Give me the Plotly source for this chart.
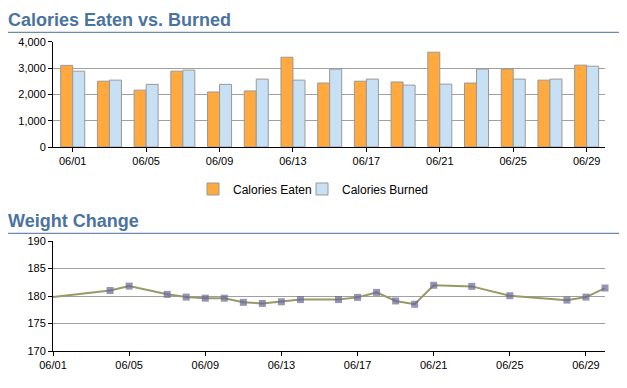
import plotly.graph_objects as go

# ---- data ----
bar_dates = ["06/01", "06/03", "06/05", "06/07", "06/09", "06/11", "06/13", "06/15",
             "06/17", "06/19", "06/21", "06/23", "06/25", "06/27", "06/29"]
calories_eaten = [3100, 2500, 2160, 2880, 2090, 2130, 3410, 2430, 2500, 2470, 3600, 2430, 2960, 2540, 3110]
calories_burned = [2880, 2540, 2380, 2920, 2380, 2580, 2540, 2960, 2580, 2350, 2390, 2960, 2580, 2580, 3070]
bar_tick_labels = ["06/01", "06/05", "06/09", "06/13", "06/17", "06/21", "06/25", "06/29"]

weight_dates = ["2008-06-01", "2008-06-04", "2008-06-05", "2008-06-07", "2008-06-08", "2008-06-09",
                "2008-06-10", "2008-06-11", "2008-06-12", "2008-06-13", "2008-06-14", "2008-06-16",
                "2008-06-17", "2008-06-18", "2008-06-19", "2008-06-20", "2008-06-21", "2008-06-23",
                "2008-06-25", "2008-06-28", "2008-06-29", "2008-06-30"]
weight = [179.8, 181.0, 181.8, 180.3, 179.8, 179.6, 179.6, 178.85, 178.65, 178.95, 179.35, 179.35,
          179.75, 180.65, 179.1, 178.5, 181.95, 181.75, 180.05, 179.25, 179.8, 181.45]

W, H = 627, 388
OFF = 8  # page body margin compensation
title_color = "#4a73a0"
font_family = "Liberation Sans, Arial, sans-serif"

def px_x(p):
    return (p - OFF) / W

def px_y(p):
    return 1 - (p - OFF) / H

fig = go.Figure()

fig.add_trace(go.Bar(x=bar_dates, y=calories_eaten, name="Calories Eaten", legendwidth=64,
                     marker=dict(color="#ffa93f", line=dict(color="#999999", width=1)),
                     xaxis="x", yaxis="y"))
fig.add_trace(go.Bar(x=bar_dates, y=calories_burned, name="Calories Burned", legendwidth=100,
                     marker=dict(color="#c8e0f4", line=dict(color="#999999", width=1)),
                     xaxis="x", yaxis="y"))

msizes = [0] + [7] * (len(weight) - 1)
fig.add_trace(go.Scatter(x=weight_dates, y=weight, mode="lines+markers", showlegend=False,
                         line=dict(color="#999966", width=2),
                         marker=dict(symbol="square", size=msizes, color="#666699",
                                     line=dict(width=0)),
                         cliponaxis=False, xaxis="x2", yaxis="y2"))

axis_common = dict(showline=True, linecolor="black", linewidth=1, ticks="outside",
                   ticklen=4, tickcolor="black", tickfont=dict(size=11, color="black"),
                   automargin=False)

fig.update_layout(
    template="none",
    width=W, height=H,
    margin=dict(l=0, r=0, t=0, b=0, pad=0),
    paper_bgcolor="white", plot_bgcolor="white",
    font=dict(family=font_family, size=11, color="black"),
    barmode="group", bargap=0.346, bargroupgap=0,
    xaxis=dict(domain=[px_x(53), px_x(605)], type="category", range=[-0.537, 14.5],
               tickvals=bar_tick_labels, ticktext=bar_tick_labels, showgrid=False,
               anchor="y", **axis_common),
    yaxis=dict(domain=[px_y(147), px_y(41.7)], range=[0, 4000], dtick=1000, tickformat=",d",
               showgrid=True, gridcolor="#a0a0a0", gridwidth=1, zeroline=False,
               anchor="x", **axis_common),
    xaxis2=dict(domain=[px_x(53), px_x(605)], type="date",
                range=["2008-06-01", "2008-06-30"], tick0="2008-06-01", dtick=4 * 86400000,
                tickformat="%m/%d", showgrid=False, anchor="y2", **axis_common),
    yaxis2=dict(domain=[px_y(351), px_y(241)], range=[170, 190], dtick=5,
                showgrid=True, gridcolor="#a0a0a0", gridwidth=1, zeroline=False,
                anchor="x2", **axis_common),
    legend=dict(orientation="h", x=px_x(193), xanchor="left", y=px_y(189), yanchor="middle",
                font=dict(size=12, color="black"), bgcolor="rgba(0,0,0,0)",
                itemwidth=30, traceorder="normal"),
    annotations=[
        dict(text="<b>Calories Eaten vs. Burned</b>", xref="paper", yref="paper",
             x=px_x(6), y=px_y(20), xanchor="left", yanchor="middle", showarrow=False,
             font=dict(size=18, color=title_color, family=font_family)),
        dict(text="<b>Weight Change</b>", xref="paper", yref="paper",
             x=px_x(6), y=px_y(221), xanchor="left", yanchor="middle", showarrow=False,
             font=dict(size=18, color=title_color, family=font_family)),
    ],
    shapes=[
        dict(type="line", xref="paper", yref="paper", x0=px_x(0), x1=px_x(623), y0=px_y(32.3), y1=px_y(32.3),
             line=dict(color="#4a6f99", width=1)),
        dict(type="line", xref="paper", yref="paper", x0=px_x(0), x1=px_x(623), y0=px_y(233.3), y1=px_y(233.3),
             line=dict(color="#4a6f99", width=1)),
        dict(type="line", xref="paper", yref="paper", x0=px_x(626), x1=px_x(626), y0=0, y1=1,
             line=dict(color="#d8d0c8", width=2)),
    ],
)

fig.write_html("out.html")
